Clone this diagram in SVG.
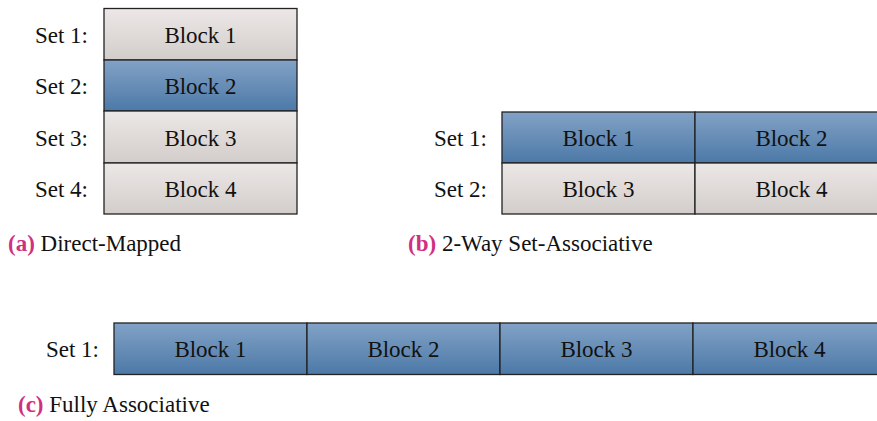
<svg xmlns="http://www.w3.org/2000/svg" width="877" height="421" viewBox="0 0 877 421">
<defs>
<linearGradient id="grey" x1="0" y1="0" x2="0" y2="1">
<stop offset="0" stop-color="#ece8e7"/>
<stop offset="1" stop-color="#d2cdca"/>
</linearGradient>
<linearGradient id="blue" x1="0" y1="0" x2="0" y2="1">
<stop offset="0" stop-color="#82a2c6"/>
<stop offset="1" stop-color="#4c79a7"/>
</linearGradient>
<style>
text{font-family:"Liberation Serif","DejaVu Serif",serif;fill:#111;}
.lbl{font-size:23px;text-anchor:end;}
.blk{font-size:23px;text-anchor:middle;}
.cap{font-size:23px;}
.tag{font-weight:bold;fill:#d0307f;}
.g{fill:url(#grey);stroke:#222;stroke-width:1.3;}
.b{fill:url(#blue);stroke:#222;stroke-width:1.3;}
</style>
</defs>

<g id="direct-mapped">
<g id="a-set1"><text class="lbl" x="88" y="43">Set 1:</text><rect class="g" x="104" y="8.5" width="193" height="51.5"/><text class="blk" x="200.5" y="43">Block 1</text></g>
<g id="a-set2"><text class="lbl" x="88" y="94">Set 2:</text><rect class="b" x="104" y="60" width="193" height="51"/><text class="blk" x="200.5" y="94">Block 2</text></g>
<g id="a-set3"><text class="lbl" x="88" y="146">Set 3:</text><rect class="g" x="104" y="111" width="193" height="52"/><text class="blk" x="200.5" y="146">Block 3</text></g>
<g id="a-set4"><text class="lbl" x="88" y="197">Set 4:</text><rect class="g" x="104" y="163" width="193" height="51"/><text class="blk" x="200.5" y="197">Block 4</text></g>
<text class="cap" x="8" y="251"><tspan class="tag">(a)</tspan> Direct-Mapped</text>
</g>

<g id="two-way">
<text class="lbl" x="487" y="146">Set 1:</text>
<text class="lbl" x="487" y="197">Set 2:</text>
<g id="b-block1"><rect class="b" x="502" y="112" width="193" height="51"/><text class="blk" x="598.5" y="146">Block 1</text></g>
<g id="b-block2"><rect class="b" x="695" y="112" width="193" height="51"/><text class="blk" x="791.5" y="146">Block 2</text></g>
<g id="b-block3"><rect class="g" x="502" y="163" width="193" height="51"/><text class="blk" x="598.5" y="197">Block 3</text></g>
<g id="b-block4"><rect class="g" x="695" y="163" width="193" height="51"/><text class="blk" x="791.5" y="197">Block 4</text></g>
<text class="cap" x="408" y="251"><tspan class="tag">(b)</tspan> 2-Way Set-Associative</text>
</g>

<g id="fully">
<text class="lbl" x="99" y="357">Set 1:</text>
<g id="c-block1"><rect class="b" x="114" y="323" width="193" height="51.5"/><text class="blk" x="210.5" y="357">Block 1</text></g>
<g id="c-block2"><rect class="b" x="307" y="323" width="193" height="51.5"/><text class="blk" x="403.5" y="357">Block 2</text></g>
<g id="c-block3"><rect class="b" x="500" y="323" width="193" height="51.5"/><text class="blk" x="596.5" y="357">Block 3</text></g>
<g id="c-block4"><rect class="b" x="693" y="323" width="193" height="51.5"/><text class="blk" x="789.5" y="357">Block 4</text></g>
<text class="cap" x="18" y="412"><tspan class="tag">(c)</tspan> Fully Associative</text>
</g>
<g id="connectors"/>
</svg>
